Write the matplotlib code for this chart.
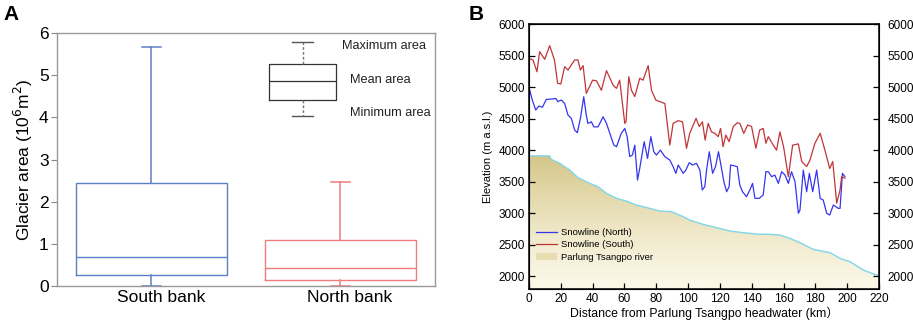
import numpy as np
import matplotlib
matplotlib.use("Agg")
import matplotlib.pyplot as plt
from matplotlib.lines import Line2D
from matplotlib.patches import Patch

plt.rcParams['font.family'] = ['Liberation Sans', 'DejaVu Sans', 'Noto Sans CJK SC']

# ---------------- Panel A data ----------------
categories = ["South bank", "North bank"]
box_q1 = [0.25, 0.15]
box_median = [0.70, 0.42]
box_q3 = [2.45, 1.08]
whisker_low = [0.0, 0.0]
whisker_high = [5.67, 2.47]
box_colors = ["#5b80c8", "#f07c7c"]

# illustrative legend box
legend_stats = dict(q1=4.42, med=4.87, q3=5.27, whislo=4.03, whishi=5.78)
legend_labels = ["Maximum area", "Mean area", "Minimum area"]

# ---------------- Panel B data ----------------
south_km = [0, 2.5, 5, 6.7, 9.9, 13, 16, 18, 20, 22.4, 24.5, 28.7, 30.8, 32.3, 34, 36, 40, 42.4, 45.5, 48.7,
            52.9, 55, 57, 60.2, 61, 62.7, 64.4, 66.5, 69.6, 71.7, 72.8, 74.9, 77, 79.7, 82.2, 85.4, 88.5, 90.6,
            93.8, 96.5, 99, 101, 105, 107, 109, 110.7, 112.6, 114.7, 116.8, 118.9, 120.4, 122, 123.7, 125.8,
            128.4, 130.9, 132.5, 135, 137.4, 139.9, 142.6, 145, 147.2, 148.9, 150.4, 153.5, 155.6, 157.7, 160,
            163, 165.7, 169.3, 171.4, 174.5, 176.6, 179.7, 183, 186, 189, 190.9, 193.4, 195.5, 196.5, 198.6]
south_elev = [5456, 5430, 5244, 5561, 5440, 5657, 5430, 5060, 5050, 5324, 5270, 5430, 5430, 5270, 5340, 4900,
              5110, 5100, 4950, 5260, 5030, 4980, 5110, 4425, 4450, 5165, 4950, 4850, 5140, 5110, 5190, 5340,
              4950, 4795, 4770, 4740, 4080, 4425, 4468, 4450, 4030, 4267, 4505, 4375, 4450, 4160, 4425, 4290,
              4267, 4215, 4345, 4055, 4240, 4135, 4375, 4435, 4425, 4267, 4400, 4375, 4030, 4320, 4345, 4110,
              4215, 4080, 4000, 4290, 4055, 3580, 4080, 4100, 3820, 3740, 3845, 4110, 4267, 4000, 3710, 3820,
              3160, 3370, 3580, 3555]

north_km = [0, 2.1, 4.2, 6.3, 8.4, 10.9, 14, 16.8, 18.2, 20.3, 22.4, 24.5, 26.6, 28.7, 30.4, 32.5, 34.4, 36,
            37, 39.2, 40.7, 43.4, 46.6, 48.7, 50.8, 53.3, 55, 58, 60.2, 61.7, 63.3, 65, 66.5, 68.2, 69.6, 72.4,
            74.5, 76.6, 78.4, 80.1, 82.6, 85.4, 88.5, 90.6, 92.3, 93.8, 96.9, 98.6, 100.7, 102.8, 105.3, 107.4,
            108.9, 110.5, 111.6, 113.3, 115.4, 117.2, 119.1, 121, 122.5, 124.2, 125.8, 126.7, 128.8, 130.9,
            132.5, 134.2, 136.7, 138.8, 140.5, 142, 144.7, 147.2, 148.9, 150.4, 152.5, 154.5, 156.7, 158.8,
            160.9, 163, 165, 167.2, 169.3, 170.3, 172.4, 174.5, 176.2, 178.3, 180.8, 183, 184.9, 187.1, 189,
            191.3, 194.4, 195.5, 197, 198.6]
north_elev = [4996, 4795, 4637, 4700, 4680, 4805, 4810, 4820, 4770, 4795, 4742, 4557, 4505, 4320, 4277, 4530,
              4848, 4557, 4425, 4450, 4370, 4370, 4530, 4425, 4267, 4082, 4055, 4267, 4345, 4215, 3900, 3923,
              4080, 3527, 3712, 4135, 3870, 4215, 3976, 3923, 4002, 3897, 3844, 3738, 3633, 3765, 3633, 3685,
              3802, 3765, 3791, 3685, 3369, 3421, 3685, 3976, 3633, 3738, 3976, 3712, 3500, 3342, 3421, 3765,
              3754, 3738, 3448, 3342, 3263, 3369, 3474, 3237, 3237, 3290, 3659, 3659, 3580, 3606, 3474, 3659,
              3606, 3474, 3659, 3500, 3000, 3050, 3685, 3342, 3633, 3342, 3685, 3237, 3210, 3000, 2973, 3131,
              3078, 3078, 3633, 3580]

river_km = [0, 13, 14, 19.3, 25.6, 30.8, 38.2, 43.4, 48.7, 55, 61.2, 67.5, 75.9, 82.2, 89.6, 96.9, 101, 109.5,
            117.9, 126.3, 134.6, 143, 151.4, 157.7, 164, 170.3, 178.7, 189.2, 195.5, 201.8, 210.1, 220]
river_elev = [3910, 3910, 3855, 3791, 3685, 3564, 3474, 3421, 3316, 3237, 3194, 3130, 3078, 3036, 3025, 2946,
              2893, 2824, 2771, 2719, 2692, 2671, 2666, 2655, 2602, 2534, 2428, 2375, 2285, 2232, 2100, 2005]

fig = plt.figure(figsize=(9.13, 3.21), dpi=100)

# ================= Panel A =================
axA = fig.add_axes([0.0624, 0.109, 0.414, 0.788])
stats = []
for i, c in enumerate(categories):
    stats.append(dict(label=c, q1=box_q1[i], med=box_median[i], q3=box_q3[i],
                      whislo=whisker_low[i], whishi=whisker_high[i], fliers=[]))
for i, s in enumerate(stats):
    col = box_colors[i]
    axA.bxp([s], positions=[i + 1], widths=0.8, showfliers=False,
            boxprops=dict(color=col, linewidth=1.0),
            medianprops=dict(color=col, linewidth=1.0),
            whiskerprops=dict(color=col, linewidth=1.1),
            capprops=dict(color=col, linewidth=1.1), capwidths=0.1)

ls = dict(legend_stats)
ls['fliers'] = []
axA.bxp([ls], positions=[1.80], widths=0.353, showfliers=False,
        boxprops=dict(color="#333333", linewidth=0.9),
        medianprops=dict(color="#333333", linewidth=0.9),
        whiskerprops=dict(color="#777777", linewidth=1.0, linestyle=(0, (2, 1.5))),
        capprops=dict(color="#555555", linewidth=1.0), capwidths=0.11)
axA.text(2.01, 5.70, legend_labels[0], fontsize=9.2, va='center', ha='left', color="#222222")
axA.text(2.05, 4.89, legend_labels[1], fontsize=9.2, va='center', ha='left', color="#222222")
axA.text(2.05, 4.10, legend_labels[2], fontsize=9.2, va='center', ha='left', color="#222222")

axA.set_xlim(0.5, 2.5)
axA.set_ylim(0, 6)
axA.set_xticks([1.05, 2.05])
axA.set_xticklabels(categories, fontsize=12.5)
axA.set_yticks(range(0, 7))
axA.tick_params(axis='y', labelsize=12.5, length=4, color="#888888", pad=2)
axA.tick_params(axis='x', length=0, pad=3)
for sp in axA.spines.values():
    sp.set_color("#999999")
    sp.set_linewidth(1.0)
axA.set_ylabel("Glacier area (10$^{6}$m$^{2}$)", fontsize=12.5, labelpad=3)
fig.text(0.004, 0.985, "A", fontsize=15, fontweight='bold', va='top', ha='left')

# ================= Panel B =================
axB = fig.add_axes([0.5794, 0.0997, 0.3834, 0.8255])
ymin = 1800
poly = axB.fill_between(river_km, river_elev, ymin, facecolor='none', edgecolor='none')
grad = np.linspace(0, 1, 256).reshape(-1, 1)
top = np.array([212, 198, 135]) / 255.0
bot = np.array([252, 248, 232]) / 255.0
img = (bot + (top - bot) * grad[:, :, None] ** 1.3).reshape(256, 1, 3)
im = axB.imshow(img, extent=[0, 220, ymin, max(river_elev)], origin='lower', aspect='auto', zorder=1,
                interpolation='bilinear')
im.set_clip_path(poly.get_paths()[0], transform=axB.transData)
axB.plot(river_km, river_elev, color="#7fd6ea", linewidth=1.0, zorder=2)
axB.plot(north_km, north_elev, color="#3535f0", linewidth=0.9, zorder=3)
axB.plot(south_km, south_elev, color="#c03538", linewidth=0.9, zorder=3)

axB.set_xlim(0, 220)
axB.set_ylim(ymin, 6000)
axB.set_xticks(range(0, 221, 20))
axB.set_yticks(range(2000, 6001, 500))
axB.tick_params(direction='in', labelsize=8.5, length=4, width=0.9, pad=3)
for sp in axB.spines.values():
    sp.set_linewidth(1.1)
axB2 = axB.twinx()
axB2.set_ylim(ymin, 6000)
axB2.set_yticks(range(2000, 6001, 500))
axB2.tick_params(direction='in', labelsize=8.5, length=4, width=0.9, pad=6)
axB.set_ylabel("Elevation (m a.s.l.)", fontsize=8, labelpad=4)
axB.set_xlabel("Distance from Parlung Tsangpo headwater (km）", fontsize=8.8, labelpad=1)

handles = [Line2D([], [], color="#3535f0", linewidth=0.9),
           Line2D([], [], color="#c03538", linewidth=0.9),
           Patch(facecolor="#e6ddb0", edgecolor='none')]
axB.legend(handles, ["Snowline (North)", "Snowline (South)", "Parlung Tsangpo river"],
           loc='upper left', bbox_to_anchor=(0.0, 0.255), frameon=False, fontsize=6.8,
           handlelength=2.3, handletextpad=0.4, labelspacing=0.35, borderaxespad=0.3)
fig.text(0.513, 0.985, "B", fontsize=15, fontweight='bold', va='top', ha='left')

fig.savefig("out.png", dpi=100)
